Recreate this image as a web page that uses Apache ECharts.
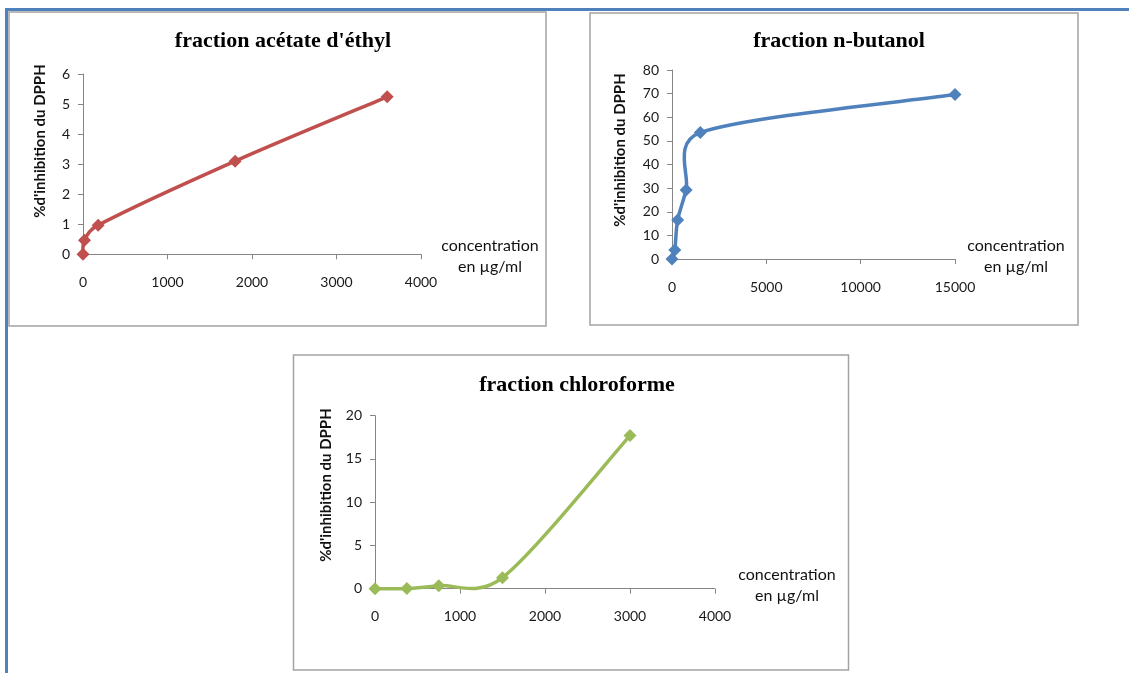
<!DOCTYPE html>
<html>
<head>
<meta charset="utf-8">
<script src="https://cdn.jsdelivr.net/npm/echarts@6/dist/echarts.min.js"></script>
<style>
  html, body { margin: 0; padding: 0; background: #fff; }
  #chart { width: 1129px; height: 673px; }
</style>
</head>
<body>
<div id="chart"></div>
<script>
// DPPH inhibition (%) versus concentration (µg/ml) for three extract fractions
const acetateConc = [0, 18, 180, 1800, 3600];
const acetateInhib = [0, 0.47, 0.97, 3.1, 5.24];

const butanolConc = [0, 150, 300, 750, 1500, 15000];
const butanolInhib = [0, 3.8, 16.5, 29.2, 53.5, 69.6];

const chloroConc = [0, 375, 750, 1500, 3000];
const chloroInhib = [0, 0.02, 0.35, 1.27, 17.7];

const titles = ["fraction acétate d'éthyl", 'fraction n-butanol', 'fraction chloroforme'];
const yAxisTitle = "%d'inhibition du DPPH";
const xAxisTitle = ['concentration', 'en µg/ml'];

const xMax = [4000, 15000, 4000];
const xStep = [1000, 5000, 1000];
const yMax = [6, 80, 20];
const yStep = [1, 10, 5];

const colors = ['#C0504D', '#4F81BD', '#9BBB59'];

const pairs = (xs, ys) => xs.map((x, i) => [x, ys[i]]);
const seriesData = [
  pairs(acetateConc, acetateInhib),
  pairs(butanolConc, butanolInhib),
  pairs(chloroConc, chloroInhib)
];

// panel layout: frame box, plot grid, text anchors
const panels = [
  { box: [9, 12, 537, 314], grid: [83, 74, 338, 180.3], titleX: 278, titleY: 25,
    yName: [40, 141], xName: [490, 256] },
  { box: [590, 13, 488, 312], grid: [672, 70, 283, 189], titleX: 834, titleY: 25,
    yName: [620, 150], xName: [1016, 256] },
  { box: [293.5, 355, 555, 315], grid: [375, 415.7, 340, 173], titleX: 572, titleY: 369,
    yName: [326, 485], xName: [787, 585] }
];

const axisGrey = '#868686';
const labelFont = { fontFamily: 'Lato', fontSize: 14, color: '#1a1a1a' };

// Spreadsheet-style smoothed curve: cardinal Bezier segments in pixel space,
// with the handle length limited relative to each segment.
function smoothCurve(data, color) {
  return function (params, api) {
    if (params.dataIndex !== 0) return null;
    const p = data.map(d => api.coord(d));
    const n = p.length;
    const children = [];
    const clampHandle = (vx, vy, segLen) => {
      const len = Math.hypot(vx, vy);
      const maxLen = 0.5 * segLen;
      if (len > maxLen && len > 0) {
        const s = maxLen / len;
        return [vx * s, vy * s];
      }
      return [vx, vy];
    };
    for (let i = 0; i < n - 1; i++) {
      const p0 = p[Math.max(i - 1, 0)];
      const p1 = p[i];
      const p2 = p[i + 1];
      const p3 = p[Math.min(i + 2, n - 1)];
      const segLen = Math.hypot(p2[0] - p1[0], p2[1] - p1[1]);
      const h1 = clampHandle((p2[0] - p0[0]) / 6, (p2[1] - p0[1]) / 6, segLen);
      const h2 = clampHandle((p3[0] - p1[0]) / 6, (p3[1] - p1[1]) / 6, segLen);
      children.push({
        type: 'bezierCurve',
        shape: {
          x1: p1[0], y1: p1[1], x2: p2[0], y2: p2[1],
          cpx1: p1[0] + h1[0], cpy1: p1[1] + h1[1],
          cpx2: p2[0] - h2[0], cpy2: p2[1] - h2[1]
        },
        style: { stroke: color, lineWidth: 3.5, fill: null, lineCap: 'round' }
      });
    }
    return { type: 'group', children: children };
  };
}

const curveSeries = seriesData.map((d, i) => ({
  type: 'custom', xAxisIndex: i, yAxisIndex: i, data: d,
  renderItem: smoothCurve(d, colors[i]),
  encode: { x: 0, y: 1 },
  silent: true, z: 2
}));

const markerSeries = seriesData.map((d, i) => ({
  type: 'scatter', xAxisIndex: i, yAxisIndex: i, data: d,
  symbol: 'diamond', symbolSize: 13,
  itemStyle: { color: colors[i], opacity: 1 },
  z: 3
}));

const option = {
  animation: false,
  title: panels.map((p, i) => ({
    text: titles[i],
    left: p.titleX,
    top: p.titleY,
    textAlign: 'center',
    textStyle: { fontFamily: 'Liberation Serif', fontWeight: 'bold', fontSize: 22, color: '#000' }
  })),
  grid: panels.map(p => ({ left: p.grid[0], top: p.grid[1], width: p.grid[2], height: p.grid[3] })),
  xAxis: panels.map((p, i) => ({
    type: 'value', gridIndex: i, min: 0, max: xMax[i], interval: xStep[i],
    axisLine: { show: true, onZero: false, lineStyle: { color: axisGrey, width: 1 } },
    axisTick: { show: true, length: 5, lineStyle: { color: axisGrey } },
    axisLabel: Object.assign({ margin: 21, formatter: v => String(v) }, labelFont),
    splitLine: { show: false }
  })),
  yAxis: panels.map((p, i) => ({
    type: 'value', gridIndex: i, min: 0, max: yMax[i], interval: yStep[i],
    axisLine: { show: true, lineStyle: { color: axisGrey, width: 1 } },
    axisTick: { show: true, length: 5, lineStyle: { color: axisGrey } },
    axisLabel: Object.assign({ margin: 13, formatter: v => String(v) }, labelFont),
    splitLine: { show: false }
  })),
  series: curveSeries.concat(markerSeries),
  graphic: [
    // page frame lines
    { type: 'line', shape: { x1: 5, y1: 9.5, x2: 1129, y2: 9.5 }, style: { stroke: '#4F81BD', lineWidth: 3 } },
    { type: 'line', shape: { x1: 6.5, y1: 8, x2: 6.5, y2: 673 }, style: { stroke: '#4F81BD', lineWidth: 3 } }
  ].concat(panels.map(p => ({
    type: 'rect', shape: { x: p.box[0], y: p.box[1], width: p.box[2], height: p.box[3] },
    style: { fill: 'none', stroke: '#A3A3A3', lineWidth: 1.5 }, z: -1
  }))).concat(panels.map(p => ({
    type: 'text', x: p.yName[0], y: p.yName[1], rotation: Math.PI / 2,
    style: { text: yAxisTitle, align: 'center', verticalAlign: 'middle',
      font: 'bold 15px Lato', fill: '#111' }
  }))).concat(panels.map(p => ({
    type: 'text', x: p.xName[0], y: p.xName[1],
    style: { text: xAxisTitle.join('\n'), align: 'center', verticalAlign: 'middle',
      font: '16px Lato', lineHeight: 21, fill: '#111' }
  })))
};

const chart = echarts.init(document.getElementById('chart'), null, { renderer: 'canvas' });
chart.setOption(option);
</script>
</body>
</html>
